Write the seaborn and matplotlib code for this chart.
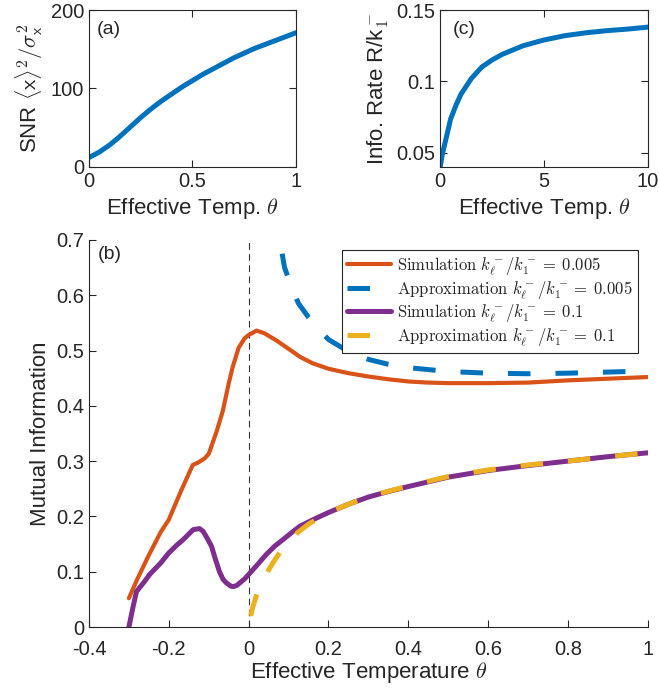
import numpy as np
import matplotlib
matplotlib.use("Agg")
import matplotlib.pyplot as plt
import seaborn as sns
from matplotlib.ticker import FuncFormatter

# panel (a): SNR vs effective temperature
theta_a = [0, 0.05, 0.1, 0.15, 0.2, 0.25, 0.3, 0.35, 0.4, 0.45, 0.5,
           0.55, 0.6, 0.65, 0.7, 0.75, 0.8, 0.85, 0.9, 0.95, 1.0]
snr_a = [12, 19, 28, 39, 51, 63, 74, 84, 93, 102, 110,
         118, 125, 132, 139, 145, 151, 156, 161, 166, 171]

# panel (c): information rate vs effective temperature
theta_c = [0, 0.1, 0.25, 0.5, 0.75, 1, 1.5, 2, 2.5, 3, 4, 5, 6, 7, 8, 9, 10]
rate_c = [0.040, 0.0488, 0.058, 0.0735, 0.083, 0.091, 0.102, 0.110, 0.115,
          0.119, 0.125, 0.129, 0.132, 0.134, 0.1355, 0.1366, 0.138]

# panel (b): mutual information
theta_sim1 = [-0.30, -0.28, -0.25, -0.22, -0.20, -0.17, -0.14, -0.125, -0.11, -0.10,
              -0.08, -0.065, -0.05, -0.04, -0.025, -0.01, 0.0, 0.02, 0.04, 0.07,
              0.10, 0.13, 0.16, 0.20, 0.25, 0.30, 0.35, 0.40, 0.45, 0.50,
              0.60, 0.70, 0.80, 0.90, 1.00]
mi_sim1 = [0.052, 0.085, 0.130, 0.172, 0.194, 0.245, 0.293, 0.298, 0.305, 0.313,
           0.354, 0.390, 0.440, 0.470, 0.505, 0.522, 0.528, 0.536, 0.531, 0.518,
           0.503, 0.488, 0.477, 0.467, 0.459, 0.453, 0.448, 0.444, 0.442, 0.441,
           0.441, 0.442, 0.446, 0.449, 0.452]

theta_apx1 = [0.066, 0.078, 0.09, 0.11, 0.125, 0.15, 0.18, 0.2, 0.25, 0.3,
              0.35, 0.4, 0.5, 0.6, 0.7, 0.8, 0.9, 1.0]
mi_apx1 = [0.76, 0.70, 0.65, 0.61, 0.585, 0.56, 0.535, 0.52, 0.498, 0.484,
           0.475, 0.469, 0.462, 0.459, 0.458, 0.459, 0.461, 0.463]

theta_sim2 = [-0.30, -0.29, -0.281, -0.26, -0.248, -0.22, -0.20, -0.18, -0.164, -0.15,
              -0.139, -0.123, -0.114, -0.105, -0.093, -0.083, -0.073, -0.064, -0.056, -0.045,
              -0.039, -0.03, -0.02, -0.01, 0.0, 0.02, 0.044, 0.065, 0.086, 0.11,
              0.128, 0.15, 0.17, 0.20, 0.25, 0.30, 0.35, 0.40, 0.50, 0.60,
              0.70, 0.80, 0.90, 1.00]
mi_sim2 = [0.0, 0.035, 0.064, 0.083, 0.095, 0.116, 0.134, 0.148, 0.158, 0.168,
           0.176, 0.178, 0.173, 0.162, 0.146, 0.122, 0.100, 0.086, 0.080, 0.074,
           0.073, 0.075, 0.081, 0.087, 0.095, 0.111, 0.131, 0.146, 0.158, 0.172,
           0.182, 0.190, 0.197, 0.207, 0.222, 0.235, 0.245, 0.254, 0.271, 0.283,
           0.292, 0.300, 0.308, 0.315]

theta_apx2 = [0.005, 0.01, 0.02, 0.03, 0.04, 0.05, 0.06, 0.08, 0.10, 0.125,
              0.15, 0.20, 0.25, 0.30, 0.40, 0.50, 0.60, 0.70, 0.80, 0.90, 1.00]
mi_apx2 = [0.020, 0.035, 0.058, 0.075, 0.090, 0.103, 0.115, 0.137, 0.155, 0.172,
           0.186, 0.207, 0.222, 0.236, 0.255, 0.272, 0.284, 0.293, 0.300, 0.308, 0.315]

labels_b = [r"$\mathrm{Simulation}\ k_\ell^-/k_1^-{=}\;0.005$",
            r"$\mathrm{Approximation}\ k_\ell^-/k_1^-{=}\;0.005$",
            r"$\mathrm{Simulation}\ k_\ell^-/k_1^-{=}\;0.1$",
            r"$\mathrm{Approximation}\ k_\ell^-/k_1^-{=}\;0.1$"]

BLUE, ORANGE, YELLOW, PURPLE = "#0072BD", "#D95319", "#EDB120", "#7E2F8E"
INK = "#262626"

sns.set_theme(style="ticks")
plt.rcParams["font.family"] = ["Liberation Sans", "DejaVu Sans"]
plt.rcParams["mathtext.fontset"] = "cm"
plt.rcParams["axes.unicode_minus"] = False
plt.rcParams["xtick.direction"] = "in"
plt.rcParams["ytick.direction"] = "in"
for k in ["text.color", "axes.labelcolor", "xtick.color", "ytick.color", "axes.edgecolor"]:
    plt.rcParams[k] = INK

fig = plt.figure(figsize=(6.59, 6.90), dpi=100)
fmt = FuncFormatter(lambda v, p: "%g" % round(v, 6))
TICK, LAB = 14.5, 16


def style_axes(ax, box):
    ax.tick_params(labelsize=TICK, width=0.8, length=5, top=box, right=box)
    ax.xaxis.set_major_formatter(fmt)
    ax.yaxis.set_major_formatter(fmt)
    for s in ax.spines.values():
        s.set_linewidth(0.8)
    if not box:
        ax.spines["top"].set_visible(False)
        ax.spines["right"].set_visible(False)


# (a)
ax_a = fig.add_axes([0.135, 0.758, 0.314, 0.2275])
sns.lineplot(x=theta_a, y=snr_a, ax=ax_a, color=BLUE, linewidth=3.6)
ax_a.set_xlim(0, 1)
ax_a.set_ylim(0, 200)
ax_a.set_xticks([0, 0.5, 1])
ax_a.set_yticks([0, 100, 200])
style_axes(ax_a, True)
ax_a.set_xlabel(r"Effective Temp. $\theta$", fontsize=LAB)
ax_a.set_ylabel(r"SNR $\langle\mathsf{x}\rangle^2/\sigma_\mathsf{x}^2$", fontsize=LAB)
ax_a.text(0.04, 0.93, "(a)", transform=ax_a.transAxes, fontsize=14, va="top")

# (c)
ax_c = fig.add_axes([0.668, 0.758, 0.315, 0.2275])
sns.lineplot(x=theta_c, y=rate_c, ax=ax_c, color=BLUE, linewidth=3.6)
ax_c.set_xlim(0, 10)
ax_c.set_ylim(0.04, 0.15)
ax_c.set_xticks([0, 5, 10])
ax_c.set_yticks([0.05, 0.1, 0.15])
style_axes(ax_c, True)
ax_c.set_xlabel(r"Effective Temp. $\theta$", fontsize=LAB)
ax_c.set_ylabel(r"Info. Rate R/k$_1^-$", fontsize=LAB)
ax_c.text(0.06, 0.93, "(c)", transform=ax_c.transAxes, fontsize=14, va="top")

# (b)
ax_b = fig.add_axes([0.135, 0.0913, 0.848, 0.561])
ax_b.axvline(0, color="#333333", linewidth=0.8, linestyle=(0, (6, 4)), zorder=1)
sns.lineplot(x=theta_sim1, y=mi_sim1, ax=ax_b, color=ORANGE, linewidth=3.0,
             label=labels_b[0], sort=False)
sns.lineplot(x=theta_apx1, y=mi_apx1, ax=ax_b, color=BLUE, linewidth=3.6,
             linestyle=(0, (4.5, 5)), label=labels_b[1], sort=False)
sns.lineplot(x=theta_sim2, y=mi_sim2, ax=ax_b, color=PURPLE, linewidth=3.6,
             label=labels_b[2], sort=False)
sns.lineplot(x=theta_apx2, y=mi_apx2, ax=ax_b, color=YELLOW, linewidth=3.6,
             linestyle=(0, (4.5, 5)), label=labels_b[3], sort=False)
ax_b.set_xlim(-0.4, 1)
ax_b.set_ylim(0, 0.7)
ax_b.set_xticks(np.arange(-0.4, 1.01, 0.2))
ax_b.set_yticks(np.arange(0, 0.71, 0.1))
style_axes(ax_b, False)
ax_b.tick_params(axis="x", pad=9)
ax_b.set_xlabel(r"Effective Temperature $\theta$", fontsize=LAB, labelpad=1)
ax_b.set_ylabel("Mutual Information", fontsize=LAB)
ax_b.text(0.015, 0.985, "(b)", transform=ax_b.transAxes, fontsize=14, va="top")
leg = ax_b.legend(loc="upper right", bbox_to_anchor=(0.982, 0.974), borderaxespad=0,
                  fontsize=12, fancybox=False, framealpha=1, edgecolor=INK,
                  handlelength=2.6, handletextpad=0.4, labelspacing=0.1, borderpad=0.3)
leg.get_frame().set_linewidth(0.8)

fig.savefig("out.png", dpi=100)
